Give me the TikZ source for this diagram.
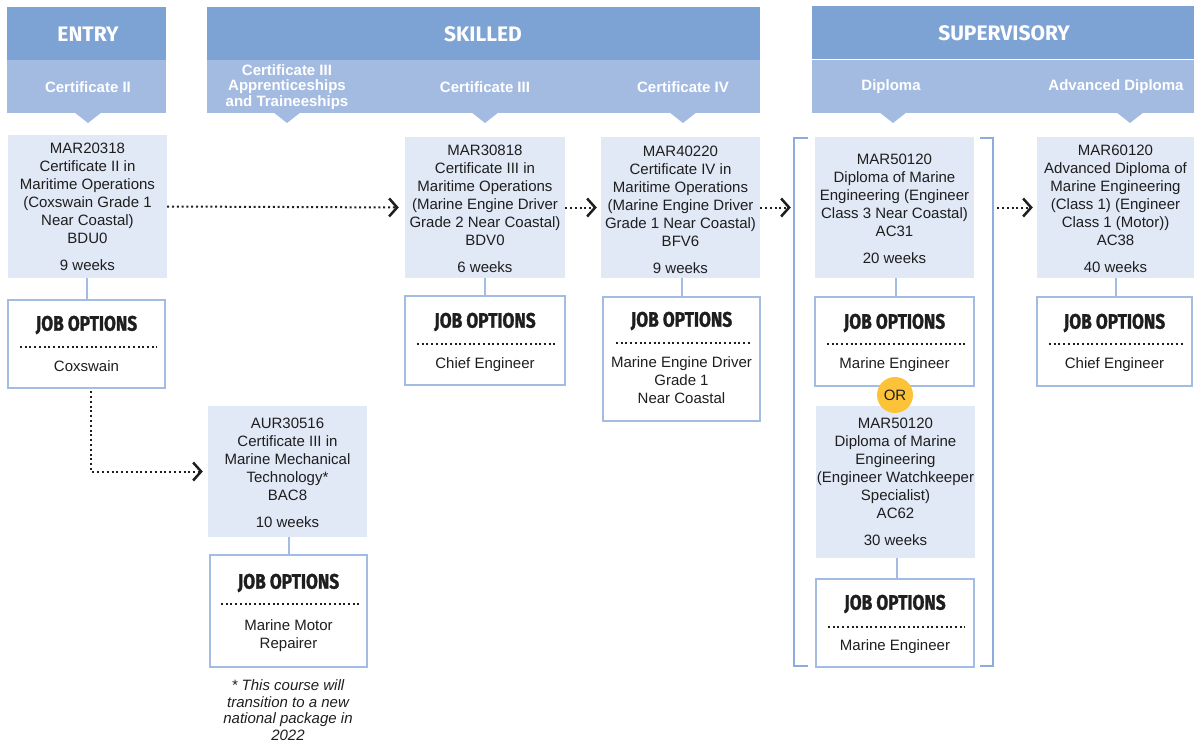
\documentclass[tikz,border=0pt]{standalone}
\usepackage{fontspec}
\setmainfont{Liberation Sans}
\newfontfamily\headfont{Fira Sans}
\newfontfamily\jofont{Fira Sans}[FakeStretch=0.82,BoldFeatures={FakeBold=1.2}]
\usetikzlibrary{arrows.meta,fit}
\definecolor{bandDark}{RGB}{125,162,212}
\definecolor{bandLight}{RGB}{164,187,225}
\definecolor{boxFill}{RGB}{225,232,246}
\definecolor{boxLine}{RGB}{163,188,228}
\definecolor{brLine}{RGB}{140,172,218}
\definecolor{orBall}{RGB}{253,195,56}
\definecolor{ink}{RGB}{30,30,30}
\begin{document}
\begin{tikzpicture}[x=1pt,y=-1pt,
  course/.style={fill=boxFill,draw=none,inner sep=0pt},
  jobbox/.style={fill=white,draw=boxLine,line width=2.4pt,inner sep=0pt},
  txt/.style={font=\fontsize{15}{18}\selectfont,align=center,inner sep=0pt,anchor=north,text=ink},
  jobtitle/.style={font=\jofont\bfseries\fontsize{21}{21}\selectfont,inner sep=0pt,text=ink},
  jodots/.style={line width=2pt,dash pattern=on 2pt off 2.7pt,ink},
  link/.style={draw=boxLine,line width=2.6pt},
  flow/.style={ink,line width=2pt,dash pattern=on 2pt off 2.8pt,-{Straight Barb[length=8pt,width=18pt,line width=2.5pt]}},
  headtxt/.style={font=\headfont\bfseries\fontsize{21}{22}\selectfont,text=white,inner sep=0pt},
  subtxt/.style={font=\bfseries\fontsize{15}{15.5}\selectfont,text=white,align=center,inner sep=0pt},
  bracketline/.style={draw=brLine,line width=2.4pt},
  foot/.style={font=\itshape\fontsize{15}{16.5}\selectfont,align=center,inner sep=0pt,anchor=north,text=ink}
]
\useasboundingbox (0,0) rectangle (1194,744);

% ---------- headers ----------
\fill[bandDark] (7,7) rectangle (166,60);
\fill[bandLight] (7,60) rectangle (166,113);
\fill[bandLight] (74,112) -- (102,112) -- (88,123) -- cycle;
\node[headtxt] (hEntry) at (88,34) {ENTRY};
\node[subtxt] (sCertII) at (88,87) {Certificate II};

\fill[bandDark] (207,7) rectangle (760,60);
\fill[bandLight] (207,60) rectangle (760,113);
\fill[bandLight] (273,112) -- (301,112) -- (287,123) -- cycle;
\fill[bandLight] (471,112) -- (499,112) -- (485,123) -- cycle;
\fill[bandLight] (669,112) -- (697,112) -- (683,123) -- cycle;
\node[headtxt] (hSkilled) at (483,34) {SKILLED};
\node[subtxt] (sApp) at (287,87) {Certificate III\\Apprenticeships\\and Traineeships};
\node[subtxt] (sCertIII) at (485,87) {Certificate III};
\node[subtxt] (sCertIV) at (683,87) {Certificate IV};

\fill[bandDark] (812,6) rectangle (1194,60);
\fill[bandLight] (812,60) rectangle (1194,113);
\draw[white,line width=0.8pt] (812,59.5) -- (1194,59.5);
\fill[bandLight] (879,112) -- (907,112) -- (893,123) -- cycle;
\fill[bandLight] (1116,112) -- (1144,112) -- (1130,123) -- cycle;
\node[headtxt] (hSuper) at (1004,33) {SUPERVISORY};
\node[subtxt] (sDip) at (891,87) {Diploma};
\node[subtxt] (sAdv) at (1116,87) {Advanced Diploma};

% ---------- course boxes ----------
\node[course,fit={(8,135) (167,278)}] (c2) {};
\node[txt] (c2t) at (87.5,140.8) {\strut MAR20318\\Certificate II in\\Maritime Operations\\(Coxswain Grade 1\\Near Coastal)\\BDU0\\[9pt]9 weeks};

\node[course,fit={(405,137) (565,278)}] (c3) {};
\node[txt] (c3t) at (485,142.8) {\strut MAR30818\\Certificate III in\\Maritime Operations\\(Marine Engine Driver\\Grade 2 Near Coastal)\\BDV0\\[9pt]6 weeks};

\node[course,fit={(601,137) (760,278)}] (c4) {};
\node[txt] (c4t) at (680.5,143.8) {\strut MAR40220\\Certificate IV in\\Maritime Operations\\(Marine Engine Driver\\Grade 1 Near Coastal)\\BFV6\\[9pt]9 weeks};

\node[course,fit={(815,137) (974,278)}] (d1) {};
\node[txt] (d1t) at (894.5,151.8) {\strut MAR50120\\Diploma of Marine\\Engineering (Engineer\\Class 3 Near Coastal)\\AC31\\[9pt]20 weeks};

\node[course,fit={(816,406) (975,558)}] (d2) {};
\node[txt] (d2t) at (895.5,415.8) {\strut MAR50120\\Diploma of Marine\\Engineering\\(Engineer Watchkeeper\\Specialist)\\AC62\\[9pt]30 weeks};

\node[course,fit={(1037,137) (1194,278)}] (adv) {};
\node[txt] (advt) at (1115.5,142.8) {\strut MAR60120\\Advanced Diploma of\\Marine Engineering\\(Class 1) (Engineer\\Class 1 (Motor))\\AC38\\[9pt]40 weeks};

\node[course,fit={(208,406) (367,537)}] (aur) {};
\node[txt] (aurt) at (287.5,415.8) {\strut AUR30516\\Certificate III in\\Marine Mechanical\\Technology*\\BAC8\\[9pt]10 weeks};

% ---------- vertical links ----------
\draw[link] (87,278) -- (87,300);
\draw[link] (485,278) -- (485,296);
\draw[link] (682,278) -- (682,297);
\draw[link] (896,278) -- (896,297);
\draw[link] (897,558) -- (897,579);
\draw[link] (1116,278) -- (1116,297);
\draw[link] (289,537) -- (289,555);

% ---------- job boxes ----------
\node[jobbox,fit={(8,300) (165,388)}] (j1) {};
\node[jobtitle] (j1h) at (86.5,325) {JOB OPTIONS};
\draw[jodots] (20,347) -- (157,347);
\node[txt] (j1t) at (86.5,358.8) {\strut Coxswain};

\node[jobbox,fit={(405,296) (565,385)}] (j3) {};
\node[jobtitle] (j3h) at (485,322) {JOB OPTIONS};
\draw[jodots] (417,344) -- (556,344);
\node[txt] (j3t) at (485,355.8) {\strut Chief Engineer};

\node[jobbox,fit={(603,297) (760,421)}] (j4) {};
\node[jobtitle] (j4h) at (681.5,321) {JOB OPTIONS};
\draw[jodots] (616,343) -- (752,343);
\node[txt] (j4t) at (681.5,354.8) {\strut Marine Engine Driver\\Grade 1\\Near Coastal};

\node[jobbox,fit={(815,297) (974,386)}] (jd1) {};
\node[jobtitle] (jd1h) at (894.5,323) {JOB OPTIONS};
\draw[jodots] (827,344) -- (965,344);
\node[txt] (jd1t) at (894.5,355.8) {\strut Marine Engineer};

\node[jobbox,fit={(816,579) (974,667)}] (jd2) {};
\node[jobtitle] (jd2h) at (895,604) {JOB OPTIONS};
\draw[jodots] (828,627) -- (965,627);
\node[txt] (jd2t) at (895,637.8) {\strut Marine Engineer};

\node[jobbox,fit={(1037,297) (1192,386)}] (jadv) {};
\node[jobtitle] (jadvh) at (1114.5,323) {JOB OPTIONS};
\draw[jodots] (1049,344) -- (1184,344);
\node[txt] (jadvt) at (1114.5,355.8) {\strut Chief Engineer};

\node[jobbox,fit={(210,555) (367,667)}] (jaur) {};
\node[jobtitle] (jaurh) at (288.5,583) {JOB OPTIONS};
\draw[jodots] (221,604) -- (359,604);
\node[txt] (jaurt) at (288.5,617.8) {\strut Marine Motor\\Repairer};

% ---------- OR ----------
\node[circle,fill=orBall,minimum size=36pt,inner sep=0pt,font=\fontsize{15}{18}\selectfont,text=ink] (or) at (895,395) {OR};

% ---------- bracket ----------
\node[inner sep=0pt,fit={(794,138) (993,666)}] (br) {};
\draw[bracketline] ([xshift=14pt]br.north west) -- (br.north west) -- (br.south west) -- ([xshift=14pt]br.south west);
\draw[bracketline] ([xshift=-13pt]br.north east) -- (br.north east) -- (br.south east) -- ([xshift=-13pt]br.south east);

% ---------- flow arrows ----------
\draw[flow,shorten >=6pt] (c2.east) -- (c3.west);
\draw[flow,shorten >=4pt] (c3.east) -- (c4.west);
\draw[flow,shorten >=3pt] (c4.east) -- (c4.east -| br.west);
\draw[flow,shorten <=4pt,shorten >=4pt] (br.east |- adv.west) -- (adv.west);
\coordinate (jdrop) at ([xshift=4.5pt]j1.south);
\draw[flow,shorten <=2pt,shorten >=5pt] (jdrop) |- (aur.west);

% ---------- footnote ----------
\node[foot] (note) at (288,679) {\strut * This course will\\transition to a new\\national package in\\2022};
\end{tikzpicture}
\end{document}
